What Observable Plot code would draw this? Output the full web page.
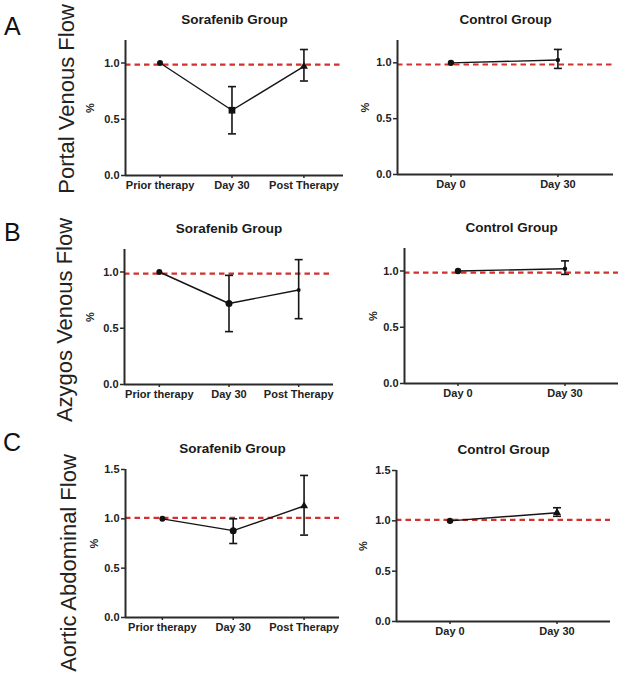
<!DOCTYPE html>
<html>
<head>
<meta charset="utf-8">
<script src="https://cdn.jsdelivr.net/npm/d3@7"></script>
<script src="https://cdn.jsdelivr.net/npm/@observablehq/plot@0.6"></script>
<style>
  html, body { margin: 0; padding: 0; background: #fff; }
  #chart { position: relative; width: 624px; height: 677px; overflow: hidden; background: #fff;
    font-family: "Liberation Sans", Arial, sans-serif; }
  .panel { position: absolute; }
  .panel svg { background: transparent; max-width: none; }
  .rowlabel { position: absolute; white-space: nowrap; font-size: 22px; line-height: 1; color: #222;
    transform: translate(-50%, -50%) rotate(-90deg); }
  .letter { position: absolute; font-size: 25px; line-height: 1; color: #111; }
</style>
</head>
<body>
<div id="chart"></div>
<script>
// ---------- data ----------
const sorafenibCats = ["Prior therapy", "Day 30", "Post Therapy"];
const controlCats = ["Day 0", "Day 30"];
const yTicksVenous = [0, 0.5, 1.0];
const yTicksAortic = [0, 0.5, 1.0, 1.5];

const rowLetters = ["A", "B", "C"];
const rowTitles = ["Portal Venous Flow", "Azygos Venous Flow", "Aortic Abdominal Flow"];
const panelTitles = ["Sorafenib Group", "Control Group"];
const yLabel = "%";

// A: Portal venous flow
const portalSorafenibMean = [1.0, 0.58, 0.97];
const portalSorafenibLow  = [1.0, 0.37, 0.84];
const portalSorafenibHigh = [1.0, 0.79, 1.12];
const portalControlMean = [1.0, 1.025];
const portalControlLow  = [1.0, 0.95];
const portalControlHigh = [1.0, 1.12];
const portalRef = 0.985;

// B: Azygos venous flow
const azygosSorafenibMean = [1.0, 0.72, 0.84];
const azygosSorafenibLow  = [1.0, 0.47, 0.585];
const azygosSorafenibHigh = [1.0, 0.97, 1.11];
const azygosControlMean = [1.0, 1.02];
const azygosControlLow  = [1.0, 0.97];
const azygosControlHigh = [1.0, 1.09];
const azygosRef = 0.985;

// C: Aortic abdominal flow
const aorticSorafenibMean = [1.0, 0.88, 1.13];
const aorticSorafenibLow  = [1.0, 0.75, 0.835];
const aorticSorafenibHigh = [1.0, 1.0, 1.44];
const aorticControlMean = [1.0, 1.08];
const aorticControlLow  = [1.0, 1.045];
const aorticControlHigh = [1.0, 1.13];
const aorticRef = 1.01;

// ---------- rendering ----------
const capSymbol = {
  draw(ctx, size) {
    const w = Math.sqrt(size / Math.PI);
    ctx.moveTo(-w, 0);
    ctx.lineTo(w, 0);
  }
};

const AXIS = "#2a2a2a";
const RED = "#d2312e";

function panel(cfg) {
  const rows = cfg.cats.map((c, i) => ({
    i, cat: c, mean: cfg.mean[i], lo: cfg.low[i], hi: cfg.high[i],
    sym: cfg.symbols[i], size: cfg.sizes[i]
  }));
  const bars = rows.filter(d => d.hi > d.lo);
  const idx = cfg.cats.map((c, i) => i);
  const marks = [
    Plot.ruleY([cfg.ref], {stroke: RED, strokeWidth: 2.2, strokeDasharray: "5.5,4"}),
    Plot.ruleX([cfg.xDomain[0]], {stroke: AXIS, strokeWidth: 2}),
    Plot.ruleY([0], {stroke: AXIS, strokeWidth: 2}),
    Plot.axisY(cfg.yTicks, {tickFormat: d3.format(".1f"), tickSize: 4, tickPadding: 2,
      stroke: AXIS, strokeWidth: 1.5, fontWeight: "bold", fontSize: 11, fill: "#222", label: null}),
    Plot.axisX(idx, {tickFormat: i => cfg.cats[i], tickSize: 3, tickPadding: 3,
      stroke: AXIS, strokeWidth: 1.5, fontWeight: "bold", fontSize: 11, fill: "#222", label: null}),
    Plot.line(rows, {x: "i", y: "mean", stroke: "#151515", strokeWidth: 1.4}),
    Plot.ruleX(bars, {x: "i", y1: "lo", y2: "hi", stroke: "#151515", strokeWidth: 1.6}),
    Plot.dot(bars, {x: "i", y: "hi", symbol: capSymbol, r: 4, stroke: "#151515", strokeWidth: 1.6, fill: "none"}),
    Plot.dot(bars, {x: "i", y: "lo", symbol: capSymbol, r: 4, stroke: "#151515", strokeWidth: 1.6, fill: "none"}),
    ...rows.map(d => Plot.dot([d], {x: "i", y: "mean", symbol: d.sym, r: d.size, fill: "#111", stroke: "none"})),
    Plot.text([cfg.title], {frameAnchor: "top", dy: -21, lineAnchor: "middle", textAnchor: "middle",
      fontSize: 13.5, fontWeight: "bold", fill: "#1a1a1a"}),
    Plot.text([yLabel], {frameAnchor: "left", dx: -cfg.labelOffset, rotate: -90, textAnchor: "middle",
      lineAnchor: "middle", fontSize: 11, fontWeight: "bold", fill: "#222"})
  ];
  const svg = Plot.plot({
    width: cfg.width, height: cfg.height,
    marginLeft: cfg.mL, marginRight: cfg.mR, marginTop: cfg.mT, marginBottom: cfg.mB,
    x: {type: "linear", domain: cfg.xDomain},
    y: {type: "linear", domain: cfg.yDomain},
    style: {fontFamily: "'Liberation Sans', Arial, sans-serif", background: "transparent", overflow: "visible"},
    marks
  });
  const wrap = document.createElement("div");
  wrap.className = "panel";
  wrap.style.left = cfg.left + "px";
  wrap.style.top = cfg.top + "px";
  wrap.appendChild(svg);
  document.getElementById("chart").appendChild(wrap);
}

const leftBase = {cats: sorafenibCats, title: panelTitles[0], left: 0, width: 350};
const rightBase = {cats: controlCats, title: panelTitles[1], left: 350, width: 274};

// Row A
panel({...leftBase, top: 0, height: 200, mL: 125, mR: 7, mT: 40, mB: 25,
  xDomain: [-0.48, 2.55], yDomain: [0, 1.2], yTicks: yTicksVenous, labelOffset: 35,
  mean: portalSorafenibMean, low: portalSorafenibLow, high: portalSorafenibHigh, ref: portalRef,
  symbols: ["circle", "square", "triangle"], sizes: [3, 3.8, 3]});
panel({...rightBase, top: 0, height: 200, mL: 47, mR: 11, mT: 40, mB: 26,
  xDomain: [-0.5, 1.52], yDomain: [0, 1.2], yTicks: yTicksVenous, labelOffset: 32,
  mean: portalControlMean, low: portalControlLow, high: portalControlHigh, ref: portalRef,
  symbols: ["circle", "circle"], sizes: [3.2, 2.2]});

// Row B
panel({...leftBase, top: 210, height: 200, mL: 124, mR: 17, mT: 39, mB: 26,
  xDomain: [-0.5, 2.5], yDomain: [0, 1.2], yTicks: yTicksVenous, labelOffset: 34,
  mean: azygosSorafenibMean, low: azygosSorafenibLow, high: azygosSorafenibHigh, ref: azygosRef,
  symbols: ["circle", "circle", "circle"], sizes: [3, 3.5, 2]});
panel({...rightBase, top: 210, height: 200, mL: 54, mR: 6, mT: 38, mB: 27,
  xDomain: [-0.5, 1.5], yDomain: [0, 1.2], yTicks: yTicksVenous, labelOffset: 31,
  mean: azygosControlMean, low: azygosControlLow, high: azygosControlHigh, ref: azygosRef,
  symbols: ["circle", "circle"], sizes: [3.2, 2.2]});

// Row C
panel({...leftBase, top: 415, height: 230, mL: 125, mR: 11, mT: 54, mB: 28,
  xDomain: [-0.52, 2.5], yDomain: [0, 1.5], yTicks: yTicksAortic, labelOffset: 31,
  mean: aorticSorafenibMean, low: aorticSorafenibLow, high: aorticSorafenibHigh, ref: aorticRef,
  symbols: ["circle", "circle", "triangle"], sizes: [3, 3.5, 3]});
panel({...rightBase, top: 415, height: 230, mL: 46, mR: 14, mT: 55, mB: 24,
  xDomain: [-0.5, 1.5], yDomain: [0, 1.5], yTicks: yTicksAortic, labelOffset: 33,
  mean: aorticControlMean, low: aorticControlLow, high: aorticControlHigh, ref: aorticRef,
  symbols: ["circle", "triangle"], sizes: [3.2, 3]});

// Row labels and letters
const chart = document.getElementById("chart");
const rowLabelPos = [[66.5, 99], [65, 320], [69, 563]];
rowTitles.forEach((t, k) => {
  const d = document.createElement("div");
  d.className = "rowlabel";
  d.textContent = t;
  d.style.left = rowLabelPos[k][0] + "px";
  d.style.top = rowLabelPos[k][1] + "px";
  chart.appendChild(d);
});
const letterPos = [[4, 14], [4, 220], [3, 430]];
rowLetters.forEach((t, k) => {
  const d = document.createElement("div");
  d.className = "letter";
  d.textContent = t;
  d.style.left = letterPos[k][0] + "px";
  d.style.top = letterPos[k][1] + "px";
  chart.appendChild(d);
});
</script>
</body>
</html>
